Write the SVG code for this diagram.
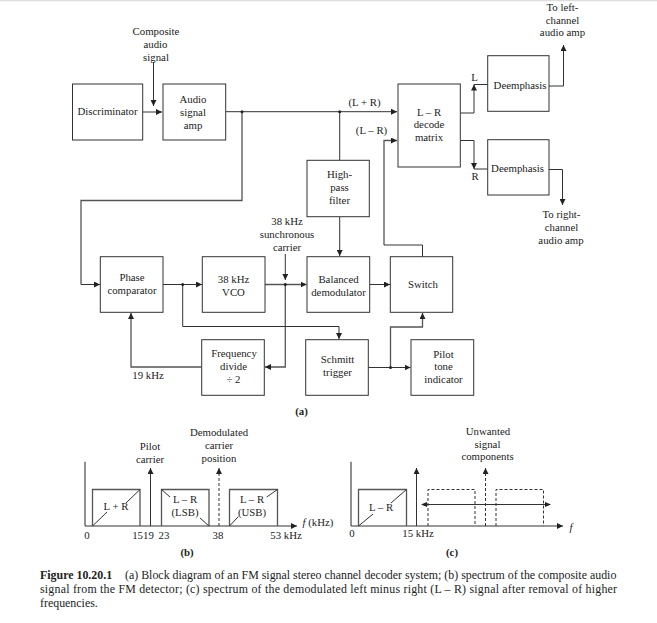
<svg xmlns="http://www.w3.org/2000/svg" width="657" height="623" viewBox="0 0 657 623">
<style>
text{font-family:"Liberation Serif","Times New Roman",serif;font-size:10.8px;fill:#222;text-anchor:middle}
.b{fill:#fff;stroke:#333;stroke-width:1}
.l{fill:none;stroke:#333;stroke-width:1}
.g{fill:none;stroke:#555;stroke-width:1.3}
.d{fill:none;stroke:#333;stroke-width:1;stroke-dasharray:3 2}
.cap{text-anchor:start;font-size:11.9px}
.bd{font-weight:bold}
</style>
<defs>
<marker id="a" markerWidth="7" markerHeight="6" refX="6" refY="3" orient="auto" markerUnits="userSpaceOnUse"><path d="M0 0L6 3L0 6Z" fill="#222"/></marker>
</defs>
<rect width="657" height="623" fill="#fff"/>
<path d="M0 .5H657" stroke="#ddd" stroke-width="1.5"/>
<g id="connectors">
<path class="l" marker-end="url(#a)" d="M153.500 62V106"/>
<path class="l" marker-end="url(#a)" d="M142.700 112H162"/>
<path class="l" marker-end="url(#a)" d="M225.700 111.700H397"/>
<path class="g" d="M242 111.700V200.500H81V284.500"/>
<path class="l" marker-end="url(#a)" d="M81 284.500H100"/>
<path class="l" d="M339.700 111.700V160"/>
<path class="g" marker-end="url(#a)" d="M384 245V140.500H397"/>
<path class="l" d="M422.500 257V245H384"/>
<path class="l" marker-end="url(#a)" d="M460.300 113H474V84.500"/>
<path class="l" d="M474 84.500H487.700"/>
<path class="l" marker-end="url(#a)" d="M460.300 140.500H474V169"/>
<path class="l" d="M474 169H487.700"/>
<path class="l" marker-end="url(#a)" d="M549 86H563.500V45"/>
<path class="l" marker-end="url(#a)" d="M549 169.500H562.500V205"/>
<path class="l" marker-end="url(#a)" d="M339.700 216.700V256"/>
<path class="l" marker-end="url(#a)" d="M163 284.500H202"/>
<path class="g" marker-end="url(#a)" d="M265 284.500H306.500"/>
<path class="l" marker-end="url(#a)" d="M285.300 254V280"/>
<path class="g" marker-end="url(#a)" d="M285.300 284.500V367H265"/>
<path class="l" marker-end="url(#a)" d="M369.700 284.500H390"/>
<path class="l" marker-end="url(#a)" d="M182.700 284.500V326.500H339V339"/>
<path class="g" marker-end="url(#a)" d="M201.700 367H131V313"/>
<path class="l" marker-end="url(#a)" d="M368.300 367.500H410.500"/>
<path class="g" marker-end="url(#a)" d="M390.500 367.500V327H422.500V313"/>
<g fill="#222">
<circle cx="242" cy="111.700" r="1.500"/><circle cx="339.700" cy="111.700" r="1.500"/><circle cx="182.700" cy="284.500" r="1.500"/><circle cx="285.300" cy="284.500" r="1.500"/><circle cx="390.500" cy="367.500" r="1.500"/>
</g>
</g>
<g id="discriminator"><rect class="b" x="72.500" y="84" width="70.200" height="56"/><text x="107.500" y="115">Discriminator</text></g>
<g id="audio-amp"><rect class="b" x="163" y="84" width="62.700" height="56"/><text x="193" y="103">Audio</text><text x="193" y="116">signal</text><text x="193" y="129">amp</text></g>
<g id="composite-label"><text x="156" y="35">Composite</text><text x="155.500" y="48">audio</text><text x="156" y="61">signal</text></g>
<g id="decode-matrix"><rect class="b" x="398" y="84" width="62.300" height="83"/><text x="429" y="116">L – R</text><text x="429" y="128">decode</text><text x="429" y="141">matrix</text></g>
<g id="deemphasis-l"><rect class="b" x="487.700" y="55.700" width="61.300" height="55.600"/><text x="520" y="89">Deemphasis</text></g>
<g id="deemphasis-r"><rect class="b" x="487.700" y="139.700" width="61.300" height="55.300"/><text x="517.500" y="172">Deemphasis</text></g>
<g id="high-pass"><rect class="b" x="307" y="160.300" width="62.300" height="56.400"/><text x="339.500" y="178">High-</text><text x="339.500" y="191">pass</text><text x="339.500" y="204">filter</text></g>
<g id="phase-comparator"><rect class="b" x="100.300" y="256.700" width="62.700" height="55.600"/><text x="132" y="281">Phase</text><text x="132" y="294">comparator</text></g>
<g id="vco"><rect class="b" x="202.300" y="256.700" width="62.700" height="55.600"/><text x="233.500" y="283">38 kHz</text><text x="233.500" y="296">VCO</text></g>
<g id="balanced"><rect class="b" x="307" y="256.700" width="62.700" height="55.600"/><text x="338.500" y="283">Balanced</text><text x="338.500" y="296">demodulator</text></g>
<g id="switch"><rect class="b" x="390.300" y="256.700" width="62.400" height="55.600"/><text x="423" y="288">Switch</text></g>
<g id="frequency-divide"><rect class="b" x="201.700" y="339.700" width="62.600" height="55.600"/><text x="234" y="357">Frequency</text><text x="233.500" y="370">divide</text><text x="233.500" y="383">÷ 2</text></g>
<g id="schmitt"><rect class="b" x="305.700" y="339.700" width="62.600" height="55.600"/><text x="337.500" y="363">Schmitt</text><text x="337.500" y="376">trigger</text></g>
<g id="pilot-tone"><rect class="b" x="411" y="339.700" width="62.700" height="55.600"/><text x="443.500" y="358">Pilot</text><text x="443.500" y="370">tone</text><text x="443.500" y="383">indicator</text></g>
<g id="labels">
<text x="364.500" y="106">(L + R)</text><text x="371.500" y="134">(L – R)</text>
<text x="474.500" y="81">L</text><text x="475" y="180">R</text>
<text x="562.500" y="11">To left-</text><text x="562.500" y="24">channel</text><text x="562.500" y="36">audio amp</text>
<text x="561.500" y="218">To right-</text><text x="561.500" y="231">channel</text><text x="561" y="244">audio amp</text>
<text x="287" y="225">38 kHz</text><text x="287" y="238">sunchronous</text><text x="287" y="251">carrier</text>
<text x="148" y="379">19 kHz</text><text class="bd" x="301.500" y="415">(a)</text>
</g>
<g id="spectrum-b">
<path class="g" d="M85 461.700V526"/><path class="l" marker-end="url(#a)" d="M85 526H297"/>
<path class="g" d="M92.500 526V489.500H140V526M161.500 526V489.500H209V526M229.500 526V489.500H277.500V526"/>
<path class="l" d="M92.500 526L107 512M126 503L140 489.500M161.500 489.500L170 497M200 518L209 526M229.500 526L238.300 516.700M266.700 497L277.500 489.500"/>
<path class="l" marker-end="url(#a)" d="M150.500 526V468"/>
<path class="d" marker-end="url(#a)" d="M219 526V468"/>
<text x="116" y="510">L + R</text><text x="185" y="503">L – R</text><text x="185" y="516">(LSB)</text><text x="252" y="503">L – R</text><text x="252" y="516">(USB)</text>
<text x="150" y="450">Pilot</text><text x="150" y="463">carrier</text>
<text x="219" y="436">Demodulated</text><text x="219" y="449">carrier</text><text x="219" y="462">position</text>
<text x="87" y="539">0</text><text x="143" y="539">1519</text><text x="164" y="539">23</text><text x="218" y="539">38</text><text x="286" y="539">53 kHz</text>
<text x="318" y="526"><tspan font-style="italic">f</tspan> (kHz)</text><text class="bd" x="187" y="556">(b)</text>
</g>
<g id="spectrum-c">
<path class="g" d="M351 461.700V526"/><path class="l" marker-end="url(#a)" d="M351 526H563"/>
<path class="g" d="M358.500 526V489.500H406.500V526"/>
<path class="l" d="M358.500 526L373 514M391 503L406.500 489.500"/>
<path class="l" marker-end="url(#a)" d="M416.500 526V468"/>
<path class="d" d="M428 526V489.500H475V526M496 526V489.500H543.500V526"/>
<path class="d" marker-end="url(#a)" d="M485.500 526V468"/>
<path class="l" d="M422 504.500H550"/>
<path d="M421 504.500L427 502V507Z M551 504.500L545 502V507Z" fill="#222"/>
<text x="381" y="511">L – R</text>
<text x="488" y="435">Unwanted</text><text x="487.500" y="448">signal</text><text x="487.500" y="460">components</text>
<text x="352" y="537">0</text><text x="418" y="537">15 kHz</text><text x="571" y="531" font-style="italic">f</text><text class="bd" x="452" y="556">(c)</text>
</g>
<g id="caption">
<text class="cap" x="40" y="579"><tspan class="bd">Figure 10.20.1</tspan><tspan x="125">(a) Block diagram of an FM signal stereo channel decoder system; (b) spectrum of the composite audio</tspan></text>
<text class="cap" x="40" y="593" textLength="577">signal from the FM detector; (c) spectrum of the demodulated left minus right (L – R) signal after removal of higher</text>
<text class="cap" x="40" y="607">frequencies.</text>
</g>
</svg>
